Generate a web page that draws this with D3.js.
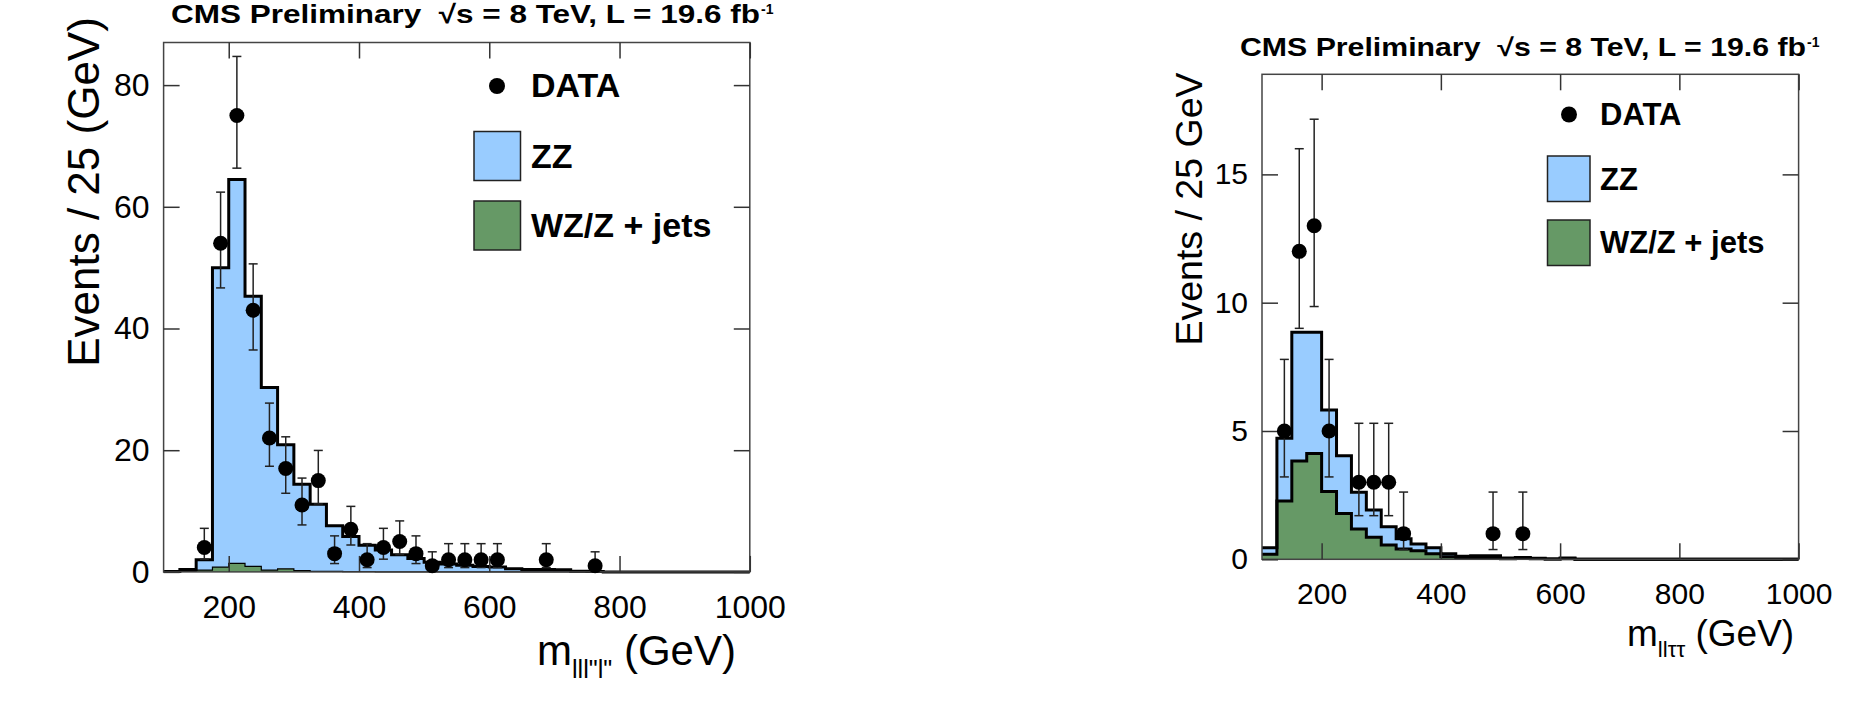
<!DOCTYPE html>
<html>
<head>
<meta charset="utf-8">
<script src="https://cdn.jsdelivr.net/npm/d3@7"></script>
<style>
  body { margin: 0; background: #fff; }
  svg { display: block; font-family: "Liberation Sans", Arial, sans-serif; }
</style>
</head>
<body>
<div id="chart"></div>
<script>
// lower bin edges, 25 GeV bins
const massLow = [100,125,150,175,200,225,250,275,300,325,350,375,400,425,450,475,500,525,
                 550,575,600,625,650,675,700,725,750,775,800,825,850,875,900,925,950,975];

// 4l channel (left)
const fourlZZ = [0.05,0.3,1.7,49.2,63.1,44.4,30.0,20.4,14.2,11.0,7.5,5.75,4.35,3.6,2.8,2.2,1.6,1.3,
                 1.1,0.9,0.8,0.5,0.4,0.4,0.35,0.1,0.05,0,0,0,0,0,0,0,0,0];
const fourlWZ = [0,0.1,0.3,0.8,1.4,0.9,0.3,0.5,0.2,0.1,0.1,0.05,0.05,0,0,0,0,0,
                 0,0,0,0,0,0,0,0,0,0,0,0,0,0,0,0,0,0];
const fourlDataMass = [162.5,187.5,212.5,237.5,262.5,287.5,312.5,337.5,362.5,387.5,412.5,
                       437.5,462.5,487.5,512.5,537.5,562.5,587.5,612.5,687.5,762.5];
const fourlDataN = [4,54,75,43,22,17,11,15,3,7,2,4,5,3,1,2,2,2,2,2,1];
const fourlDataLo = [1.91,7.33,8.65,6.53,4.64,4.08,3.28,3.83,1.63,2.58,1.29,1.91,2.16,1.63,0.83,1.29,1.29,1.29,1.29,1.29,0.83];
const fourlDataHi = [3.16,8.41,9.71,7.62,5.74,5.20,4.42,4.96,2.92,3.77,2.64,3.16,3.38,2.92,2.30,2.64,2.64,2.64,2.64,2.64,2.30];

// ll tau tau channel (right)
const tauZZ = [0.25,2.45,5.02,4.73,3.18,2.26,1.43,1.06,0.71,0.4,0.27,0.23,0.12,0.06,0.11,0.11,0.03,0.02,
               0.02,0,0.03,0,0,0,0,0,0,0,0,0,0,0,0,0,0,0];
const tauWZ = [0.2,2.27,3.83,4.12,2.64,1.78,1.18,0.86,0.56,0.4,0.33,0.22,0.1,0.06,0.03,0.03,0.02,0.05,
               0.02,0.01,0.02,0,0,0,0,0,0,0,0,0,0,0,0,0,0,0];
const tauDataMass = [137.5,162.5,187.5,212.5,262.5,287.5,312.5,337.5,487.5,537.5];
const tauDataN = [5,12,13,5,3,3,3,1,1,1];
const tauDataLo = [1.79,3.0,3.15,1.79,1.30,1.30,1.30,0.62,0.62,0.62];
const tauDataHi = [2.79,4.0,4.15,2.79,2.30,2.30,2.30,1.62,1.62,1.62];

const xTicks = [200,400,600,800,1000];
const fourlYTicks = [0,20,40,60,80];
const tauYTicks = [0,5,10,15];
const legendLabels = ["DATA","ZZ","WZ/Z + jets"];

const zzColor = "#99ccff";
const wzColor = "#669966";

const svg = d3.select("#chart").append("svg")
  .attr("width", 1872)
  .attr("height", 721);

function drawPanel(p) {
  const g = svg.append("g");
  const x = d3.scaleLinear().domain([100, 1000]).range([p.left, p.right]);
  const y = d3.scaleLinear().domain([0, p.yMax]).range([p.bottom, p.top]);

  const rows = massLow.map((m, i) => ({ m: m, wz: p.wz[i], zz: p.zz[i] }));
  rows.push({ m: 1000, wz: 0, zz: 0 });
  const stack = d3.stack().keys(["wz", "zz"])(rows);

  g.append("clipPath").attr("id", "clip-" + p.name)
    .append("rect")
    .attr("x", p.left).attr("y", p.top)
    .attr("width", p.right - p.left).attr("height", p.bottom - p.top + 2);

  const area = d3.area().curve(d3.curveStepAfter)
    .x(d => x(d.data.m)).y0(d => y(d[0])).y1(d => y(d[1]));
  const topLine = d3.line().curve(d3.curveStepAfter)
    .x(d => x(d.data.m)).y(d => y(d[1]));

  const hist = g.append("g").attr("clip-path", "url(#clip-" + p.name + ")");
  hist.append("path").datum(stack[1]).attr("d", area).attr("fill", zzColor);
  hist.append("path").datum(stack[0]).attr("d", area).attr("fill", wzColor);
  hist.append("path").datum(stack[0]).attr("d", topLine)
    .attr("fill", "none").attr("stroke", "#000").attr("stroke-width", p.wzStroke);
  hist.append("path").datum(stack[1]).attr("d", topLine)
    .attr("fill", "none").attr("stroke", "#000").attr("stroke-width", 3);

  // frame
  g.append("rect")
    .attr("x", p.left).attr("y", p.top)
    .attr("width", p.right - p.left).attr("height", p.bottom - p.top)
    .attr("fill", "none").attr("stroke", "#444").attr("stroke-width", 1.5);

  const tick = 16;
  const styleAxis = (a) => {
    a.select(".domain").remove();
    a.selectAll("line").attr("stroke", "#333").attr("stroke-width", 1.5);
    a.selectAll("text").attr("fill", "#000")
      .attr("font-family", '"Liberation Sans", Arial, sans-serif')
      .attr("font-size", p.tickFont);
  };

  g.append("g").attr("transform", "translate(0," + p.bottom + ")")
    .call(d3.axisBottom(x).tickValues(xTicks).tickFormat(d3.format("d")).tickSize(-tick).tickPadding(23))
    .call(styleAxis);
  g.append("g").attr("transform", "translate(0," + p.top + ")")
    .call(d3.axisTop(x).tickValues(xTicks).tickSize(-tick).tickFormat(""))
    .call(styleAxis);
  g.append("g").attr("transform", "translate(" + p.left + ",0)")
    .call(d3.axisLeft(y).tickValues(p.yTicks).tickSize(-tick).tickPadding(14))
    .call(styleAxis);
  g.append("g").attr("transform", "translate(" + p.right + ",0)")
    .call(d3.axisRight(y).tickValues(p.yTicks).tickSize(-tick).tickFormat(""))
    .call(styleAxis);

  // data points with error bars
  const pts = p.dataMass.map((m, i) => ({ m: m, n: p.dataN[i], lo: p.dataLo[i], hi: p.dataHi[i] }));
  const pt = g.append("g").selectAll("g").data(pts).enter().append("g");
  pt.append("line")
    .attr("x1", d => x(d.m)).attr("x2", d => x(d.m))
    .attr("y1", d => y(d.n - d.lo)).attr("y2", d => y(d.n + d.hi))
    .attr("stroke", "#222").attr("stroke-width", 1.5);
  pt.append("line")
    .attr("x1", d => x(d.m) - 4.5).attr("x2", d => x(d.m) + 4.5)
    .attr("y1", d => y(d.n + d.hi)).attr("y2", d => y(d.n + d.hi))
    .attr("stroke", "#222").attr("stroke-width", 1.5);
  pt.append("line")
    .attr("x1", d => x(d.m) - 4.5).attr("x2", d => x(d.m) + 4.5)
    .attr("y1", d => y(d.n - d.lo)).attr("y2", d => y(d.n - d.lo))
    .attr("stroke", "#222").attr("stroke-width", 1.5);
  pt.append("circle")
    .attr("cx", d => x(d.m)).attr("cy", d => y(d.n))
    .attr("r", 7.5).attr("fill", "#000");

  // legend
  const L = p.legend;
  g.append("circle").attr("cx", L.markX).attr("cy", L.markY).attr("r", 8).attr("fill", "#000");
  g.append("rect").attr("x", L.boxX).attr("y", L.box1Y).attr("width", L.boxW).attr("height", L.boxH)
    .attr("fill", zzColor).attr("stroke", "#222").attr("stroke-width", 1.5);
  g.append("rect").attr("x", L.boxX).attr("y", L.box2Y).attr("width", L.boxW).attr("height", L.boxH)
    .attr("fill", wzColor).attr("stroke", "#222").attr("stroke-width", 1.5);
  [L.base0, L.base1, L.base2].forEach((b, i) => {
    g.append("text").attr("x", L.textX).attr("y", b)
      .attr("font-size", L.font).attr("font-weight", "bold")
      .text(legendLabels[i]);
  });

  // title, squeezed into the width it has in the original
  g.append("text").attr("x", p.titleX).attr("y", p.titleY)
    .attr("font-size", p.titleFont).attr("font-weight", "bold")
    .attr("textLength", p.titleLen).attr("lengthAdjust", "spacingAndGlyphs")
    .style("white-space", "pre")
    .text("CMS Preliminary  \u221As = 8 TeV, L = 19.6 fb");
  g.append("text").attr("x", p.titleX + p.titleLen + 1).attr("y", p.titleY - 9)
    .attr("font-size", 14).attr("font-weight", "bold")
    .text("-1");

  // y label
  g.append("text")
    .attr("transform", "translate(" + p.yLabelX + "," + p.yLabelY + ") rotate(-90)")
    .attr("text-anchor", "middle")
    .attr("font-size", p.yLabelFont)
    .text(p.yLabel);

  // x label
  const xl = g.append("text").attr("x", p.xLabelX).attr("y", p.xLabelY).attr("font-size", p.xLabelFont);
  xl.append("tspan").text("m");
  xl.append("tspan").attr("dy", p.xLabelFont * 0.3).attr("font-size", p.xLabelFont * 0.6).text(p.xSub);
  xl.append("tspan").attr("dy", -p.xLabelFont * 0.3).text(" (GeV)");
}

drawPanel({
  name: "fourl",
  left: 163.6, right: 749.8, top: 42.5, bottom: 571.9, yMax: 87,
  zz: fourlZZ, wz: fourlWZ, wzStroke: 1.2,
  dataMass: fourlDataMass, dataN: fourlDataN, dataLo: fourlDataLo, dataHi: fourlDataHi,
  yTicks: fourlYTicks, tickFont: 32,
  legend: { markX: 497, markY: 86, boxX: 474, boxW: 46.5, boxH: 49, box1Y: 131.5, box2Y: 201,
            textX: 531, base0: 97, base1: 168, base2: 237, font: 34 },
  titleX: 171, titleY: 23, titleLen: 589, titleFont: 26,
  yLabel: "Events / 25 (GeV)", yLabelX: 99, yLabelY: 192, yLabelFont: 44,
  xSub: "lll\"l\"", xLabelX: 537, xLabelY: 665, xLabelFont: 42
});

drawPanel({
  name: "tau",
  left: 1262, right: 1798.6, top: 74.3, bottom: 559.3, yMax: 18.9,
  zz: tauZZ, wz: tauWZ, wzStroke: 3,
  dataMass: tauDataMass, dataN: tauDataN, dataLo: tauDataLo, dataHi: tauDataHi,
  yTicks: tauYTicks, tickFont: 30,
  legend: { markX: 1569, markY: 114.5, boxX: 1547.5, boxW: 42.5, boxH: 45.5, box1Y: 156, box2Y: 220,
            textX: 1600, base0: 125, base1: 189.5, base2: 253, font: 31 },
  titleX: 1240, titleY: 56, titleLen: 566, titleFont: 25,
  yLabel: "Events / 25 GeV", yLabelX: 1202, yLabelY: 209, yLabelFont: 37.5,
  xSub: "ll\u03c4\u03c4", xLabelX: 1627, xLabelY: 646, xLabelFont: 37
});
</script>
</body>
</html>
